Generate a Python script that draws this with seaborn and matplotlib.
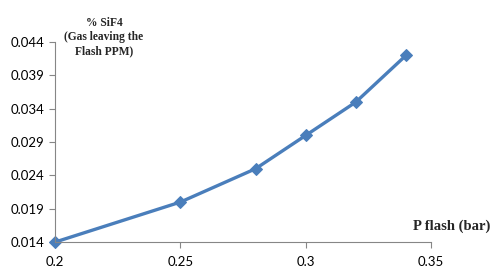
import matplotlib
matplotlib.use('Agg')
import matplotlib.pyplot as plt
import seaborn as sns
import pandas as pd

p_flash = [0.20, 0.25, 0.28, 0.30, 0.32, 0.34]
sif4_pct = [0.014, 0.020, 0.025, 0.030, 0.035, 0.042]
x_ticks = [0.2, 0.25, 0.3, 0.35]
x_labels = ['0.2', '0.25', '0.3', '0.35']
y_ticks = [0.014, 0.019, 0.024, 0.029, 0.034, 0.039, 0.044]

df = pd.DataFrame({'p': p_flash, 'sif4': sif4_pct})

sns.set_style('white')
plt.rcParams['font.family'] = ['Lato', 'DejaVu Sans']

fig = plt.figure(figsize=(5, 2.77), dpi=100)
ax = fig.add_axes([0.11, 0.126, 0.752, 0.722])

sns.lineplot(data=df, x='p', y='sif4', ax=ax, color='#4A7EBB', lw=2.4,
             marker='D', markersize=6.5, markeredgecolor='#4A7EBB')

ax.set_xlim(0.2, 0.35)
ax.set_ylim(0.014, 0.044)
ax.set_xticks(x_ticks)
ax.set_xticklabels(x_labels)
ax.set_yticks(y_ticks)
ax.set_yticklabels([f'{v:.3f}' for v in y_ticks])
ax.tick_params(axis='both', labelsize=9.5, colors='#868686', labelcolor='black',
               length=4, width=0.8, direction='out', left=True, bottom=True)
ax.tick_params(axis='x', pad=6)
for side in ['top', 'right']:
    ax.spines[side].set_visible(False)
for side in ['left', 'bottom']:
    ax.spines[side].set_color('#868686')
    ax.spines[side].set_linewidth(0.8)
ax.set_xlabel('')
ax.set_ylabel('')
for ln in ax.lines:
    ln.set_clip_on(False)

fig.text(0.208, 0.866, '% SiF4\n(Gas leaving the\nFlash PPM)', ha='center', va='center',
         fontsize=8.3, fontweight='bold', family='Liberation Serif', linespacing=1.25)
fig.text(0.903, 0.184, 'P flash (bar)', ha='center', va='center',
         fontsize=10.5, fontweight='bold', family='Liberation Serif')

fig.savefig('out.png', dpi=100)
